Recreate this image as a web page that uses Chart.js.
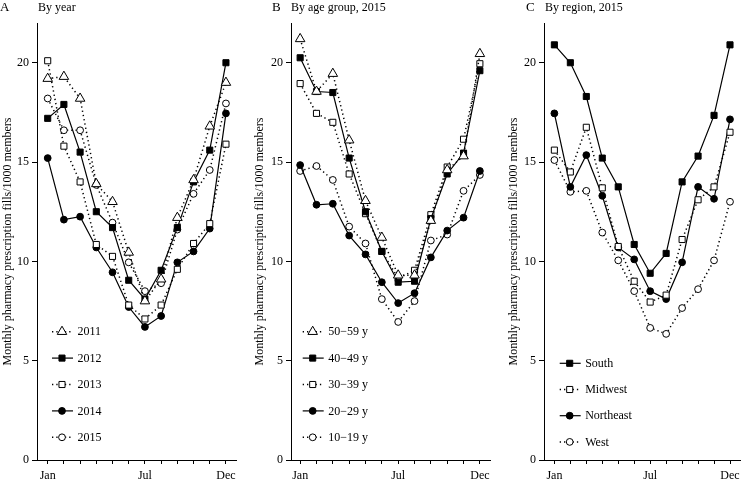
<!DOCTYPE html>
<html>
<head>
<meta charset="utf-8">
<script src="https://cdn.jsdelivr.net/npm/chart.js@4.4.0/dist/chart.umd.min.js"></script>
<style>
  body { margin: 0; background: #fff; }
  #wrap { position: relative; width: 746px; height: 481px; font-family: "Liberation Serif", serif; color: #000; }
  canvas { position: absolute; top: 0; }
  .let { position: absolute; top: 0; font-size: 13px; line-height: 13px; }
  .ttl { position: absolute; top: 1px; font-size: 12px; line-height: 12px; white-space: nowrap; }
</style>
</head>
<body>
<div id="wrap">
  <canvas id="chartA" width="248" height="481" style="left:0"></canvas>
  <canvas id="chartB" width="249" height="481" style="left:248px"></canvas>
  <canvas id="chartC" width="249" height="481" style="left:497px"></canvas>
  <div class="let" style="left:0">A</div><div class="ttl" style="left:38px">By year</div>
  <div class="let" style="left:272px">B</div><div class="ttl" style="left:291px">By age group, 2015</div>
  <div class="let" style="left:526px">C</div><div class="ttl" style="left:545px">By region, 2015</div>
</div>
<script>
const months = ['Jan','Feb','Mar','Apr','May','Jun','Jul','Aug','Sep','Oct','Nov','Dec'];
const monthTicks = ['Jan','','','','','','Jul','','','','','Dec'];
const yTicks = [0, 5, 10, 15, 20];
const yTitle = 'Monthly pharmacy prescription fills/1000 members';

// A: by year
const yearLabels = ['2011', '2012', '2013', '2014', '2015'];
const y2011 = [19.2, 19.3, 18.2, 13.9, 13.0, 10.45, 8.0, 9.1, 12.2, 14.1, 16.8, 19.0];
const y2012 = [17.2, 17.9, 15.5, 12.5, 11.7, 9.05, 8.1, 9.55, 11.7, 14.0, 15.6, 20.0];
const y2013 = [20.1, 15.8, 14.0, 10.85, 10.25, 7.8, 7.1, 7.8, 9.6, 10.9, 11.9, 15.9];
const y2014 = [15.2, 12.1, 12.25, 10.7, 9.45, 7.7, 6.7, 7.25, 9.95, 10.5, 11.65, 17.45];
const y2015 = [18.2, 16.6, 16.6, 13.85, 11.95, 9.95, 8.5, 8.9, 11.6, 13.4, 14.6, 17.95];

// B: by age group, 2015
const ageLabels = ['50\u221259 y', '40\u221249 y', '30\u221239 y', '20\u221229 y', '10\u221219 y'];
const age50 = [21.2, 18.55, 19.45, 16.1, 13.05, 11.2, 9.3, 9.3, 12.05, 14.6, 15.3, 20.45];
const age40 = [20.25, 18.55, 18.5, 15.2, 12.5, 10.5, 8.95, 9.0, 12.15, 14.4, 15.45, 19.6];
const age30 = [18.95, 17.45, 17.0, 14.4, 12.4, 10.5, 9.15, 9.55, 12.35, 14.75, 16.15, 19.95];
const age20 = [14.85, 12.85, 12.9, 11.3, 10.35, 8.95, 7.9, 8.4, 10.2, 11.55, 12.2, 14.55];
const age10 = [14.55, 14.8, 14.1, 11.75, 10.9, 8.1, 6.95, 8.0, 11.05, 11.35, 13.55, 14.35];

// C: by region, 2015
const regionLabels = ['South', 'Midwest', 'Northeast', 'West'];
const south = [20.9, 20.0, 18.3, 15.2, 13.75, 10.85, 9.4, 10.4, 14.0, 15.3, 17.35, 20.9];
const midwest = [15.6, 14.5, 16.75, 13.7, 10.75, 9.0, 7.95, 8.3, 11.1, 13.1, 13.75, 16.5];
const northeast = [17.45, 13.75, 15.35, 13.3, 10.7, 10.1, 8.5, 8.1, 9.95, 13.75, 13.15, 17.15];
const west = [15.1, 13.5, 13.55, 11.45, 10.05, 8.5, 6.65, 6.35, 7.65, 8.6, 10.05, 13.0];

const FONT = '"Liberation Serif", serif';
const DOT = [1.3, 3];

const styles = {
  openTri:   { pointStyle: 'triangle', pointRadius: 5.5, open: true,  dash: DOT },
  fillRect:  { pointStyle: 'rect',     pointRadius: 4.3, open: false, dash: [] },
  openRect:  { pointStyle: 'rect',     pointRadius: 4.3, open: true,  dash: DOT },
  fillCirc:  { pointStyle: 'circle',   pointRadius: 3.4, open: false, dash: [] },
  openCirc:  { pointStyle: 'circle',   pointRadius: 3.4, open: true,  dash: DOT },
};

function series(label, values, st) {
  return {
    label: label,
    data: values.map((v, i) => ({ x: i, y: v })),
    borderColor: '#000',
    borderWidth: st.dash.length ? 1.5 : 1.2,
    borderDash: st.dash,
    pointStyle: st.pointStyle,
    pointRadius: st.pointRadius,
    pointBorderWidth: 1,
    pointBorderColor: '#000',
    pointBackgroundColor: st.open ? '#fff' : '#000',
    fill: false,
    tension: 0,
  };
}

// legend drawn inside the plot area, bottom left
const insideLegend = {
  id: 'insideLegend',
  afterDraw(chart, args, opts) {
    const ctx = chart.ctx;
    const area = chart.chartArea;
    ctx.save();
    ctx.font = '12px ' + FONT;
    ctx.textBaseline = 'middle';
    ctx.fillStyle = '#000';
    chart.data.datasets.forEach((ds, i) => {
      const x = area.left + opts.left;
      const y = opts.top + i * opts.gap;
      ctx.strokeStyle = '#000';
      ctx.lineWidth = ds.borderWidth;
      ctx.setLineDash(ds.borderDash);
      ctx.beginPath();
      ctx.moveTo(x - 10, y);
      ctx.lineTo(x + 11, y);
      ctx.stroke();
      ctx.setLineDash([]);
      ctx.lineWidth = 1;
      ctx.fillStyle = ds.pointBackgroundColor;
      Chart.helpers.drawPoint(ctx, { pointStyle: ds.pointStyle, radius: ds.pointRadius, borderWidth: 1, rotation: 0 }, x, y);
      ctx.fillStyle = '#000';
      ctx.fillText(ds.label, x + 15.5, y + 0.5);
    });
    ctx.restore();
  }
};

function makeChart(id, datasets, o) {
  return new Chart(document.getElementById(id), {
    type: 'line',
    data: { datasets: datasets },
    options: {
      responsive: false,
      animation: false,
      layout: { padding: { top: 23, right: o.padRight, left: 0, bottom: 0 } },
      plugins: {
        legend: { display: false },
        tooltip: { enabled: false },
        insideLegend: o.legend,
      },
      scales: {
        x: {
          type: 'linear',
          min: o.xMin,
          max: o.xMax,
          afterBuildTicks: s => { s.ticks = months.map((m, i) => ({ value: i })); },
          afterFit: s => { s.height = 21; },
          grid: { drawOnChartArea: false, drawTicks: true, tickLength: 4, color: '#000' },
          border: { display: true, color: '#000', width: 1 },
          ticks: {
            autoSkip: false, maxRotation: 0, padding: 5, color: '#000',
            font: { family: FONT, size: 12 },
            callback: v => monthTicks[v],
          },
        },
        y: {
          min: 0,
          max: 22,
          afterBuildTicks: s => { s.ticks = yTicks.map(v => ({ value: v })); },
          afterFit: s => { s.width = o.yWidth; },
          title: {
            display: true, text: yTitle, color: '#000',
            font: { family: FONT, size: 12 },
            padding: { top: o.titlePad, bottom: 0 },
          },
          grid: { drawOnChartArea: false, drawTicks: true, tickLength: 5, color: '#000' },
          border: { display: true, color: '#000', width: 1 },
          ticks: { padding: 3, color: '#000', font: { family: FONT, size: 12 } },
        },
      },
    },
    plugins: [insideLegend],
  });
}

makeChart('chartA', [
  series(yearLabels[0], y2011, styles.openTri),
  series(yearLabels[1], y2012, styles.fillRect),
  series(yearLabels[2], y2013, styles.openRect),
  series(yearLabels[3], y2014, styles.fillCirc),
  series(yearLabels[4], y2015, styles.openCirc),
], { xMin: -0.66, xMax: 11.62, yWidth: 37, padRight: 12, titlePad: 1,
     legend: { left: 25, top: 331.7, gap: 26.4 } });

makeChart('chartB', [
  series(ageLabels[0], age50, styles.openTri),
  series(ageLabels[1], age40, styles.fillRect),
  series(ageLabels[2], age30, styles.openRect),
  series(ageLabels[3], age20, styles.fillCirc),
  series(ageLabels[4], age10, styles.openCirc),
], { xMin: -0.56, xMax: 11.65, yWidth: 43, padRight: 4, titlePad: 5,
     legend: { left: 21.7, top: 331.7, gap: 26.4 } });

makeChart('chartC', [
  series(regionLabels[0], south, styles.fillRect),
  series(regionLabels[1], midwest, styles.openRect),
  series(regionLabels[2], northeast, styles.fillCirc),
  series(regionLabels[3], west, styles.openCirc),
], { xMin: -0.65, xMax: 11.67, yWidth: 47, padRight: 0, titlePad: 10,
     legend: { left: 25.7, top: 363.3, gap: 26.2 } });
</script>
</body>
</html>
